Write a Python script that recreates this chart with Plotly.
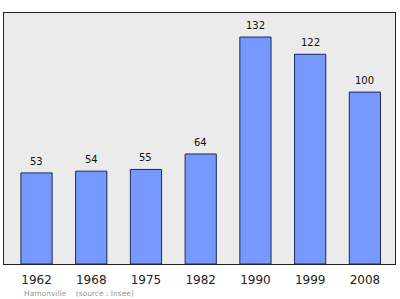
import plotly.graph_objects as go

years = ["1962", "1968", "1975", "1982", "1990", "1999", "2008"]
population = [53, 54, 55, 64, 132, 122, 100]
footer_town = "Hamonville"
footer_source = "(source : Insee)"

xs = list(range(len(years)))

fig = go.Figure()
fig.add_trace(go.Bar(
    x=xs, y=population, width=0.57,
    marker=dict(color="#7799ff", line=dict(color="#1a2a55", width=1)),
    hoverinfo="skip",
))
for x, v in zip(xs, population):
    fig.add_annotation(x=x, y=v, text=str(v), showarrow=False, yanchor="bottom",
                       yshift=4, font=dict(family="DejaVu Sans", size=10, color="#111"))

fig.add_annotation(xref="paper", yref="paper", x=0.045, y=-0.092, xanchor="left", yanchor="top",
                   text=footer_town + "&nbsp;&nbsp;&nbsp;&nbsp;" + footer_source, showarrow=False,
                   font=dict(family="DejaVu Sans", size=7.5, color="#999"))

fig.update_layout(
    width=400, height=299,
    margin=dict(l=4, r=5, t=13, b=35),
    paper_bgcolor="white", plot_bgcolor="#ebebeb",
    showlegend=False,
    xaxis=dict(range=[-0.594, 6.55], tickvals=xs, ticktext=years, showgrid=False, zeroline=False,
               showline=True, mirror=True, linecolor="#222", linewidth=1,
               ticks="outside", ticklen=5, tickcolor="rgba(0,0,0,0)",
               tickfont=dict(family="DejaVu Sans", size=12, color="#222")),
    yaxis=dict(range=[0, 146], showgrid=False, zeroline=False, showticklabels=False,
               showline=True, mirror=True, linecolor="#222", linewidth=1, ticks=""),
)
fig.write_html("out.html")
